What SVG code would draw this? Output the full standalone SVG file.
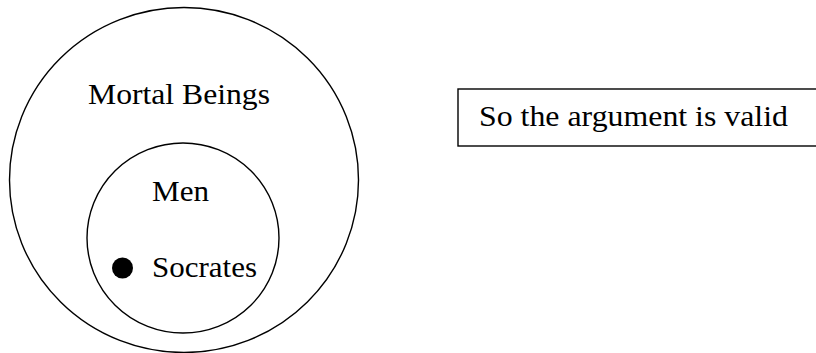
<svg xmlns="http://www.w3.org/2000/svg" width="816" height="353" viewBox="0 0 816 353">
<style>
.c{fill:none;stroke:#000;stroke-width:1.4}
.t{font-family:"Liberation Serif","Times New Roman",serif;font-size:29px;fill:#000}
</style>
<rect width="816" height="353" fill="#fff"/>
<g id="mortal-beings">
<ellipse class="c" cx="184" cy="180" rx="174.5" ry="172.5"/>
<text class="t" x="88" y="104" textLength="182" lengthAdjust="spacingAndGlyphs">Mortal Beings</text>
</g>
<g id="men">
<ellipse class="c" cx="183" cy="238" rx="96" ry="95"/>
<text class="t" x="152" y="201" textLength="57" lengthAdjust="spacingAndGlyphs">Men</text>
</g>
<g id="socrates">
<circle cx="122.5" cy="268" r="10.5" fill="#000"/>
<text class="t" x="152" y="277" textLength="105" lengthAdjust="spacingAndGlyphs">Socrates</text>
</g>
<g id="conclusion">
<rect class="c" x="458" y="89" width="362" height="57"/>
<text class="t" x="479" y="126" textLength="309" lengthAdjust="spacingAndGlyphs">So the argument is valid</text>
</g>
<g id="connectors"></g>
</svg>
